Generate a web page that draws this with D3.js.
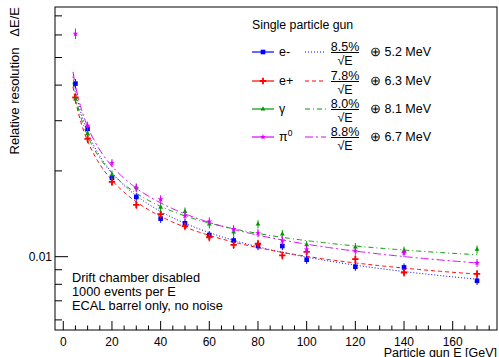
<!DOCTYPE html>
<html>
<head>
<meta charset="utf-8">
<script src="https://cdn.jsdelivr.net/npm/d3@7"></script>
<style>
  body { margin: 0; background: #fff; }
  text { font-family: "Liberation Sans", Arial, sans-serif; fill: #000; }
</style>
</head>
<body>
<script>
// beam energies [GeV]
var energies = [5, 10, 20, 30, 40, 50, 60, 70, 80, 90, 100, 120, 140, 170];

// relative resolution per particle
var resEminus = [0.0405, 0.0281, 0.0189, 0.0162, 0.0136, 0.0131, 0.0119, 0.0114, 0.0109, 0.0109, 0.00976, 0.00922, 0.00917, 0.00823];
var errEminus = [0.0015, 0.0009, 0.0006, 0.0005, 0.00045, 0.00043, 0.0004, 0.00038, 0.00036, 0.00036, 0.00032, 0.0003, 0.0003, 0.00027];
var resEplus = [0.0362, 0.0259, 0.0183, 0.0152, 0.0141, 0.0128, 0.0117, 0.0110, 0.0111, 0.0101, 0.0104, 0.0098, 0.0088, 0.0087];
var errEplus = [0.0013, 0.0009, 0.0006, 0.0005, 0.00047, 0.00042, 0.00039, 0.00036, 0.00037, 0.00033, 0.00034, 0.00032, 0.00029, 0.00029];
var resGamma = [0.0357, 0.0270, 0.0194, 0.0175, 0.0149, 0.0144, 0.0130, 0.0122, 0.0130, 0.0120, 0.0110, 0.0108, 0.0105, 0.0106];
var errGamma = [0.0013, 0.0009, 0.00065, 0.00058, 0.0005, 0.00048, 0.00043, 0.0004, 0.00043, 0.0004, 0.00036, 0.00036, 0.00035, 0.00035];
var resPi0 = [0.0606, 0.0288, 0.0213, 0.0174, 0.0159, 0.0139, 0.0133, 0.0125, 0.0121, 0.0114, 0.0106, 0.0105, 0.0103, 0.0095];
var errPi0 = [0.0026, 0.001, 0.0007, 0.00058, 0.00053, 0.00046, 0.00044, 0.00041, 0.0004, 0.00038, 0.00035, 0.00035, 0.00034, 0.00031];

// fit: a/sqrt(E) (+) c
var fitStoch = [0.085, 0.078, 0.080, 0.088];
var fitConst = [0.0052, 0.0063, 0.0081, 0.0067];
var fitStochLabels = ["8.5%", "7.8%", "8.0%", "8.8%"];
var fitConstLabels = ["5.2 MeV", "6.3 MeV", "8.1 MeV", "6.7 MeV"];
var fitRange = [4, 170];

var xTicks = [0, 20, 40, 60, 80, 100, 120, 140, 160];
var yTicks = [0.006, 0.007, 0.008, 0.009, 0.01, 0.02, 0.03, 0.04, 0.05, 0.06, 0.07];
var yLabelled = [0.01];

var comments = ["Drift chamber disabled", "1000 events per E", "ECAL barrel only, no noise"];

var series = [
  {name: "e-", res: resEminus, err: errEminus, color: "#0000ff", marker: "square", dash: "1,2"},
  {name: "e+", res: resEplus, err: errEplus, color: "#ff0000", marker: "plus", dash: "4,3"},
  {name: "γ", res: resGamma, err: errGamma, color: "#009900", marker: "triangle", dash: "5,3,1,3"},
  {name: "π", sup: "0", res: resPi0, err: errPi0, color: "#dd00ff", marker: "star", dash: "8,3,2,3"}
];

var W = 499, H = 357;
var frame = {l: 55, r: 497, t: 7, b: 330};

var svg = d3.select("body").append("svg")
  .attr("width", W).attr("height", H);

var x = d3.scaleLinear().domain([-3.4, 178.2]).range([frame.l, frame.r]);
var y = d3.scaleLog().domain([0.00553, 0.0752]).range([frame.b, frame.t]);

svg.append("defs").append("clipPath").attr("id", "clip")
  .append("rect")
  .attr("x", frame.l).attr("y", frame.t)
  .attr("width", frame.r - frame.l).attr("height", frame.b - frame.t);

// axes
var xMinor = d3.range(0, 176, 5).filter(function(d) { return d % 20 != 0; });
var xAx = svg.append("g").attr("transform", "translate(0," + frame.b + ")");
xAx.selectAll("line.maj").data(xTicks).enter().append("line")
  .attr("x1", x).attr("x2", x).attr("y1", 0).attr("y2", -9)
  .attr("stroke", "#000");
xAx.selectAll("line.min").data(xMinor).enter().append("line")
  .attr("x1", x).attr("x2", x).attr("y1", 0).attr("y2", -4.5)
  .attr("stroke", "#000");
xAx.selectAll("text").data(xTicks).enter().append("text")
  .attr("x", x).attr("y", 15.5)
  .attr("text-anchor", "middle").attr("font-size", 12)
  .text(function(d) { return d; });

var yAx = svg.append("g").attr("transform", "translate(" + frame.l + ",0)");
yAx.selectAll("line").data(yTicks).enter().append("line")
  .attr("y1", y).attr("y2", y).attr("x1", 0)
  .attr("x2", function(d) { return yLabelled.indexOf(d) >= 0 ? 13 : 7; })
  .attr("stroke", "#000");
yAx.selectAll("text").data(yLabelled).enter().append("text")
  .attr("x", -3).attr("y", function(d) { return y(d) + 4.3; })
  .attr("text-anchor", "end").attr("font-size", 12)
  .text(function(d) { return d; });

svg.append("rect")
  .attr("x", frame.l).attr("y", frame.t)
  .attr("width", frame.r - frame.l).attr("height", frame.b - frame.t)
  .attr("fill", "none").attr("stroke", "#000");

svg.append("text")
  .attr("x", frame.r).attr("y", 356.5)
  .attr("text-anchor", "end").attr("font-size", 12.5)
  .text("Particle gun E [GeV]");

svg.append("text")
  .attr("transform", "translate(19," + frame.t + ") rotate(-90)")
  .attr("text-anchor", "end").attr("font-size", 13)
  .style("white-space", "pre")
  .text("Relative resolution   ΔE/E");

// fits
var plot = svg.append("g").attr("clip-path", "url(#clip)");
var fitE = d3.range(fitRange[0], fitRange[1] + 0.01, 0.5);
var line = d3.line().x(function(d) { return x(d[0]); }).y(function(d) { return y(d[1]); });

series.forEach(function(s, i) {
  var pts = fitE.map(function(e) {
    return [e, Math.sqrt(fitStoch[i] * fitStoch[i] / e + fitConst[i] * fitConst[i])];
  });
  plot.append("path").datum(pts)
    .attr("d", line)
    .attr("fill", "none").attr("stroke", s.color)
    .attr("stroke-width", 1).attr("stroke-dasharray", s.dash);
});

function drawMarker(g, type, color) {
  if (type == "square") {
    g.append("rect").attr("x", -2.3).attr("y", -2.3).attr("width", 4.6).attr("height", 4.6)
      .attr("fill", color);
  } else if (type == "plus") {
    g.append("path").attr("d", "M-3.2,0H3.2M0,-3.2V3.2")
      .attr("stroke", color).attr("stroke-width", 1.8);
  } else if (type == "triangle") {
    g.append("path").attr("d", d3.symbol(d3.symbolTriangle, 10)())
      .attr("fill", color);
  } else {
    g.append("path").attr("d", d3.symbol(d3.symbolStar, 11)())
      .attr("fill", color);
  }
}

// points with error bars
series.forEach(function(s) {
  var g = plot.append("g");
  var pts = g.selectAll("g").data(energies).enter().append("g");
  pts.append("line")
    .attr("x1", function(e) { return x(e); }).attr("x2", function(e) { return x(e); })
    .attr("y1", function(e, j) { return y(s.res[j] - s.err[j]); })
    .attr("y2", function(e, j) { return y(s.res[j] + s.err[j]); })
    .attr("stroke", s.color).attr("stroke-width", 1);
  pts.each(function(e, j) {
    var m = d3.select(this).append("g")
      .attr("transform", "translate(" + x(e) + "," + y(s.res[j]) + ")");
    drawMarker(m, s.marker, s.color);
  });
});

// legend
var leg = svg.append("g");
leg.append("text").attr("x", 252).attr("y", 29).attr("font-size", 12.3)
  .text("Single particle gun");

var rowY = [52, 81, 109, 137];
series.forEach(function(s, i) {
  var ry = rowY[i];
  leg.append("line").attr("x1", 252).attr("x2", 274).attr("y1", ry).attr("y2", ry)
    .attr("stroke", s.color).attr("stroke-width", 1.2);
  var m = leg.append("g").attr("transform", "translate(263," + ry + ")");
  drawMarker(m, s.marker, s.color);
  var t = leg.append("text").attr("x", 279).attr("y", ry + 4.3).attr("font-size", 12.5)
    .text(s.name);
  if (s.sup) {
    t.append("tspan").attr("font-size", 8.5).attr("dy", -5).text(s.sup);
  }
  leg.append("line").attr("x1", 305).attr("x2", 326).attr("y1", ry).attr("y2", ry)
    .attr("stroke", s.color).attr("stroke-width", 1).attr("stroke-dasharray", s.dash);
  leg.append("text").attr("x", 345).attr("y", ry - 1).attr("font-size", 12.5)
    .attr("text-anchor", "middle").text(fitStochLabels[i]);
  leg.append("line").attr("x1", 331).attr("x2", 359).attr("y1", ry + 0.5).attr("y2", ry + 0.5)
    .attr("stroke", "#000").attr("stroke-width", 1);
  leg.append("text").attr("x", 345).attr("y", ry + 13).attr("font-size", 12.5)
    .attr("text-anchor", "middle").text("√E");
  leg.append("text").attr("x", 370).attr("y", ry + 4.3).attr("font-size", 12.5)
    .text("⊕ " + fitConstLabels[i]);
});

// comment block
svg.append("g").selectAll("text").data(comments).enter().append("text")
  .attr("x", 72).attr("y", function(d, i) { return 282 + i * 14; })
  .attr("font-size", 12.8)
  .text(function(d) { return d; });
</script>
</body>
</html>
